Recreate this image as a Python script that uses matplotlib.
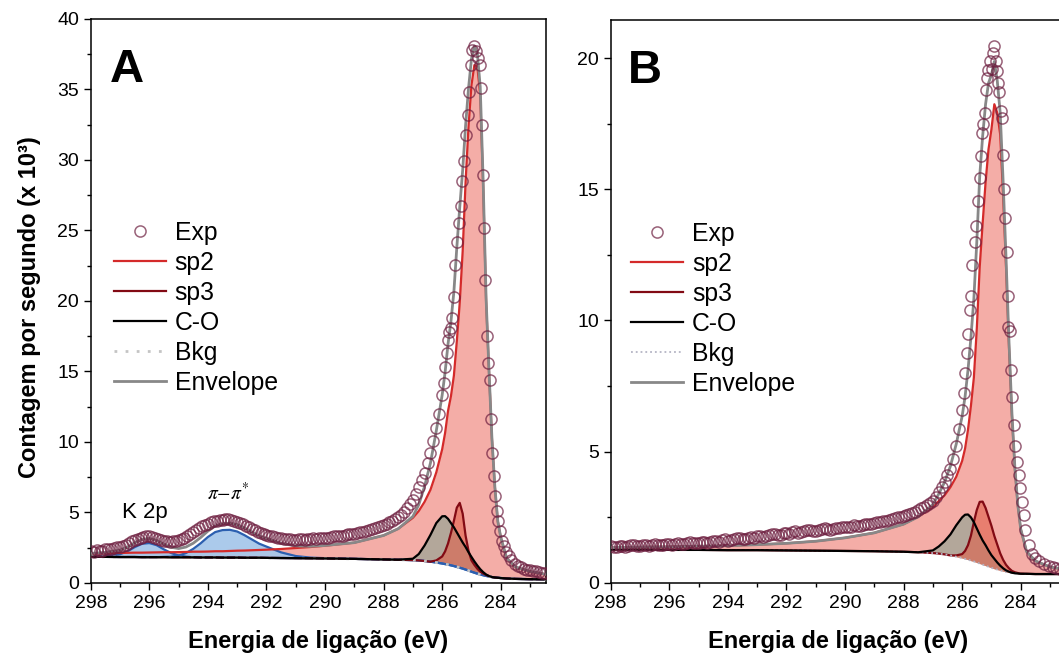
import numpy as np
import matplotlib.pyplot as plt
from matplotlib.ticker import MultipleLocator

plt.rcParams['font.family'] = ['Liberation Sans', 'DejaVu Sans']

# ---------------- panel A ----------------
energy_a = [298.0, 297.5, 297.0, 296.75, 296.5, 296.25, 296.0, 295.75, 295.5, 295.25,
            295.0, 294.75, 294.5, 294.25, 294.0, 293.75, 293.5, 293.25, 293.0, 292.75,
            292.5, 292.25, 292.0, 291.5, 291.0, 290.5, 290.0, 289.0, 288.0, 287.5,
            287.0, 286.8, 286.6, 286.4, 286.2, 286.0, 285.9, 285.8, 285.7, 285.6,
            285.5, 285.4, 285.3, 285.2, 285.1, 285.0, 284.9, 284.8, 284.7, 284.6,
            284.5, 284.4, 284.3, 284.2, 284.1, 284.0, 283.8, 283.5, 283.0, 282.45]
bkg_a = [1.85, 1.85, 1.84, 1.84, 1.84, 1.83, 1.83, 1.83, 1.83, 1.82,
         1.82, 1.82, 1.82, 1.81, 1.81, 1.81, 1.80, 1.80, 1.80, 1.79,
         1.79, 1.79, 1.78, 1.77, 1.76, 1.75, 1.74, 1.71, 1.67, 1.65,
         1.62, 1.60, 1.56, 1.51, 1.45, 1.38, 1.34, 1.30, 1.25, 1.20,
         1.14, 1.08, 1.02, 0.95, 0.88, 0.80, 0.73, 0.66, 0.60, 0.55,
         0.50, 0.46, 0.42, 0.39, 0.37, 0.35, 0.32, 0.29, 0.27, 0.26]
# component heights above the background
sp2_a = [0.25, 0.27, 0.29, 0.30, 0.31, 0.32, 0.33, 0.34, 0.35, 0.36,
         0.37, 0.38, 0.40, 0.41, 0.42, 0.44, 0.45, 0.47, 0.49, 0.51,
         0.53, 0.55, 0.58, 0.64, 0.72, 0.80, 0.90, 1.15, 1.70, 2.20,
         3.00, 3.50, 4.20, 5.10, 6.40, 8.10, 9.30, 10.9, 12.0, 13.5,
         16.0, 18.8, 22.5, 27.5, 31.5, 34.5, 36.0, 36.0, 34.0, 27.6,
         19.5, 14.5, 9.8, 6.4, 4.0, 2.9, 1.45, 0.85, 0.55, 0.35]
sp3_a = [0.0] * 34 + [0.15, 0.5, 0.9, 1.5, 2.3, 3.2, 4.2, 4.6, 3.9, 2.4,
                      1.4, 0.8, 0.55, 0.35, 0.2, 0.12, 0.07, 0.03] + [0.0] * 8
co_a = [0.0] * 30 + [0.1, 0.45, 1.1, 1.9, 2.8, 3.35, 3.4, 3.25, 3.0, 2.75,
                     2.45, 2.15, 1.85, 1.6, 1.3, 1.05, 0.8, 0.58, 0.38, 0.22,
                     0.1, 0.03] + [0.0] * 8
k2p_a = [0.0, 0.05, 0.2, 0.4, 0.7, 0.95, 1.0, 0.85, 0.55, 0.3, 0.13, 0.05] + [0.0] * 48
pipi_a = [0.0] * 8 + [0.02, 0.05, 0.12, 0.3, 0.6, 1.0, 1.45, 1.8, 1.95, 1.97,
                      1.85, 1.6, 1.3, 1.0, 0.8, 0.4, 0.15, 0.05, 0.02] + [0.0] * 33

exp_e_a = [298.0, 297.9, 297.8, 297.7, 297.6, 297.5, 297.4, 297.3, 297.2, 297.1,
           297.0, 296.9, 296.8, 296.7, 296.6, 296.5, 296.4, 296.3, 296.2, 296.1,
           296.0, 295.9, 295.8, 295.7, 295.6, 295.5, 295.4, 295.3, 295.2, 295.1,
           295.0, 294.9, 294.8, 294.7, 294.6, 294.5, 294.4, 294.3, 294.2, 294.1,
           294.0, 293.9, 293.8, 293.7, 293.6, 293.5, 293.4, 293.3, 293.2, 293.1,
           293.0, 292.9, 292.8, 292.7, 292.6, 292.5, 292.4, 292.3, 292.2, 292.1,
           292.0, 291.9, 291.8, 291.7, 291.6, 291.5, 291.4, 291.3, 291.2, 291.1,
           291.0, 290.9, 290.8, 290.7, 290.6, 290.5, 290.4, 290.3, 290.2, 290.1,
           290.0, 289.9, 289.8, 289.7, 289.6, 289.5, 289.4, 289.3, 289.2, 289.1,
           289.0, 288.9, 288.8, 288.7, 288.6, 288.5, 288.4, 288.3, 288.2, 288.1,
           288.0, 287.9, 287.8, 287.7, 287.6, 287.5, 287.4, 287.3, 287.2, 287.1,
           287.0, 286.9, 286.8, 286.7, 286.6, 286.5, 286.4, 286.3, 286.2, 286.1,
           286.0, 285.95, 285.9, 285.85, 285.8, 285.75, 285.7, 285.65, 285.6, 285.55,
           285.5, 285.43, 285.37, 285.31, 285.25, 285.19, 285.13, 285.07, 285.03, 284.97,
           284.9, 284.84, 284.77, 284.71, 284.67, 284.63, 284.6, 284.57, 284.54, 284.48,
           284.42, 284.36, 284.32, 284.29, 284.24, 284.18, 284.14, 284.1, 284.04, 283.97,
           283.9, 283.82, 283.73, 283.64, 283.5, 283.4, 283.3, 283.2, 283.1, 283.0,
           282.9, 282.8, 282.7, 282.6, 282.5]
exp_a = [2.25, 2.20, 2.32, 2.28, 2.30, 2.38, 2.42, 2.40, 2.45, 2.52,
         2.58, 2.62, 2.72, 2.85, 2.95, 3.02, 3.15, 3.20, 3.28, 3.35,
         3.32, 3.28, 3.22, 3.12, 3.05, 3.00, 2.98, 2.92, 2.95, 3.00,
         3.05, 3.10, 3.22, 3.30, 3.45, 3.62, 3.75, 3.90, 4.02, 4.10,
         4.20, 4.30, 4.36, 4.40, 4.45, 4.50, 4.52, 4.55, 4.46, 4.42,
         4.35, 4.25, 4.16, 4.05, 3.95, 3.85, 3.76, 3.62, 3.55, 3.48,
         3.42, 3.36, 3.30, 3.28, 3.22, 3.18, 3.15, 3.10, 3.12, 3.06,
         3.08, 3.10, 3.12, 3.06, 3.10, 3.14, 3.16, 3.12, 3.18, 3.20,
         3.22, 3.20, 3.25, 3.30, 3.32, 3.30, 3.36, 3.42, 3.45, 3.46,
         3.50, 3.56, 3.60, 3.64, 3.70, 3.76, 3.82, 3.90, 3.95, 4.02,
         4.10, 4.20, 4.30, 4.40, 4.52, 4.65, 4.80, 5.02, 5.30, 5.60,
         5.90, 6.30, 6.80, 7.30, 7.80, 8.50, 9.20, 10.1, 11.0, 12.0,
         13.3, 14.2, 15.3, 16.3, 17.2, 17.8, 18.1, 18.8, 20.3, 22.55,
         24.2, 25.5, 26.7, 28.5, 29.9, 31.8, 33.2, 34.8, 36.7, 37.8,
         38.1, 37.7, 37.2, 36.7, 35.1, 32.5, 28.9, 25.2, 21.5, 17.5,
         15.6, 14.4, 11.6, 9.2, 7.6, 6.2, 5.1, 4.4, 3.7, 3.0,
         2.6, 2.2, 1.9, 1.6, 1.35, 1.2, 1.1, 1.0, 0.95, 0.9,
         0.88, 0.82, 0.78, 0.72, 0.68]

# ---------------- panel B ----------------
energy_b = [298.0, 297.0, 296.0, 295.0, 294.0, 293.0, 292.0, 291.0, 290.0, 289.0,
            288.0, 287.5, 287.0, 286.8, 286.6, 286.4, 286.2, 286.0, 285.9, 285.8,
            285.7, 285.6, 285.5, 285.4, 285.3, 285.2, 285.1, 285.0, 284.9, 284.8,
            284.7, 284.6, 284.5, 284.4, 284.3, 284.2, 284.1, 284.0, 283.8, 283.5,
            283.0, 282.45]
bkg_b = [1.27, 1.27, 1.26, 1.26, 1.25, 1.25, 1.24, 1.23, 1.22, 1.21,
         1.19, 1.17, 1.14, 1.12, 1.09, 1.05, 1.00, 0.95, 0.92, 0.89,
         0.85, 0.82, 0.78, 0.74, 0.70, 0.66, 0.62, 0.58, 0.54, 0.51,
         0.48, 0.45, 0.42, 0.40, 0.38, 0.37, 0.36, 0.35, 0.35, 0.34,
         0.34, 0.34]
sp2_b = [0.08, 0.10, 0.12, 0.14, 0.17, 0.21, 0.27, 0.36, 0.50, 0.70,
         1.05, 1.35, 1.75, 2.00, 2.25, 2.60, 3.05, 3.70, 4.20, 4.95,
         5.90, 7.00, 8.90, 11.3, 13.0, 14.6, 15.9, 16.7, 17.7, 17.4,
         16.6, 14.3, 11.6, 8.6, 6.0, 4.0, 2.6, 1.7, 0.85, 0.5,
         0.27, 0.17]
sp3_b = [0.0] * 16 + [0.05, 0.15, 0.3, 0.55, 0.95, 1.5, 2.0, 2.35, 2.4, 2.2,
                      1.9, 1.6, 1.25, 0.95, 0.65, 0.43, 0.27, 0.16, 0.08, 0.04,
                      0.02, 0.01] + [0.0] * 4
co_b = [0.0] * 12 + [0.1, 0.27, 0.5, 0.8, 1.2, 1.55, 1.68, 1.72, 1.65, 1.5,
                     1.3, 1.1, 0.92, 0.78, 0.62, 0.48, 0.38, 0.27, 0.18, 0.11,
                     0.06, 0.03, 0.01] + [0.0] * 7

exp_e_b = [298.0, 297.9, 297.8, 297.7, 297.6, 297.5, 297.4, 297.3, 297.2, 297.1,
           297.0, 296.9, 296.8, 296.7, 296.6, 296.5, 296.4, 296.3, 296.2, 296.1,
           296.0, 295.9, 295.8, 295.7, 295.6, 295.5, 295.4, 295.3, 295.2, 295.1,
           295.0, 294.9, 294.8, 294.7, 294.6, 294.5, 294.4, 294.3, 294.2, 294.1,
           294.0, 293.9, 293.8, 293.7, 293.6, 293.5, 293.4, 293.3, 293.2, 293.1,
           293.0, 292.9, 292.8, 292.7, 292.6, 292.5, 292.4, 292.3, 292.2, 292.1,
           292.0, 291.9, 291.8, 291.7, 291.6, 291.5, 291.4, 291.3, 291.2, 291.1,
           291.0, 290.9, 290.8, 290.7, 290.6, 290.5, 290.4, 290.3, 290.2, 290.1,
           290.0, 289.9, 289.8, 289.7, 289.6, 289.5, 289.4, 289.3, 289.2, 289.1,
           289.0, 288.9, 288.8, 288.7, 288.6, 288.5, 288.4, 288.3, 288.2, 288.1,
           288.0, 287.9, 287.8, 287.7, 287.6, 287.5, 287.4, 287.3, 287.2, 287.1,
           287.0, 286.9, 286.8, 286.7, 286.6, 286.5, 286.4, 286.3, 286.2, 286.1,
           286.0, 285.95, 285.9, 285.85, 285.8, 285.74, 285.69, 285.66, 285.57, 285.51,
           285.46, 285.4, 285.36, 285.32, 285.28, 285.22, 285.18, 285.15, 285.1, 285.05,
           284.98, 284.94, 284.9, 284.86, 284.82, 284.79, 284.75, 284.68, 284.65, 284.59,
           284.56, 284.54, 284.48, 284.44, 284.42, 284.38, 284.33, 284.3, 284.24, 284.18,
           284.13, 284.07, 284.02, 283.96, 283.9, 283.85, 283.73, 283.62, 283.5, 283.39,
           283.2, 283.04, 282.9, 282.8, 282.65, 282.5]
exp_b = [1.39, 1.36, 1.38, 1.42, 1.41, 1.37, 1.40, 1.44, 1.43, 1.40,
         1.42, 1.46, 1.44, 1.41, 1.43, 1.47, 1.46, 1.44, 1.45, 1.49,
         1.47, 1.46, 1.49, 1.52, 1.48, 1.50, 1.52, 1.55, 1.51, 1.53,
         1.54, 1.58, 1.56, 1.54, 1.55, 1.60, 1.60, 1.58, 1.62, 1.66,
         1.61, 1.64, 1.66, 1.71, 1.70, 1.66, 1.68, 1.73, 1.74, 1.71,
         1.78, 1.80, 1.76, 1.79, 1.82, 1.86, 1.86, 1.82, 1.84, 1.90,
         1.90, 1.88, 1.93, 1.97, 1.92, 1.95, 1.97, 2.02, 2.00, 1.98,
         1.99, 2.03, 2.04, 2.08, 2.06, 2.03, 2.05, 2.09, 2.10, 2.14,
         2.12, 2.13, 2.15, 2.19, 2.18, 2.18, 2.20, 2.25, 2.24, 2.26,
         2.28, 2.31, 2.32, 2.36, 2.38, 2.40, 2.44, 2.48, 2.50, 2.53,
         2.57, 2.60, 2.64, 2.68, 2.72, 2.78, 2.84, 2.90, 2.97, 3.04,
         3.12, 3.28, 3.46, 3.65, 3.84, 4.10, 4.35, 4.72, 5.23, 5.86,
         6.60, 7.24, 8.00, 8.75, 9.50, 10.4, 10.95, 12.1, 13.0, 13.6,
         14.55, 15.44, 16.27, 17.15, 17.5, 17.9, 18.8, 19.24, 19.55, 19.87,
         19.6, 20.2, 20.44, 19.9, 19.5, 19.05, 18.7, 18.0, 17.7, 16.3,
         15.0, 13.9, 12.6, 10.95, 9.75, 9.6, 8.1, 7.1, 6.0, 5.2,
         4.6, 4.1, 3.6, 3.1, 2.6, 2.0, 1.45, 1.1, 0.95, 0.82,
         0.72, 0.63, 0.60, 0.57, 0.53, 0.50]


def draw_panel(ax, e, bkg, sp2, sp3, co, exp_e, exp_y, blue=(), bkg_style=None):
    e = np.array(e)
    bkg = np.array(bkg)
    sp2 = np.array(sp2)
    sp3 = np.array(sp3)
    co = np.array(co)
    env = bkg + sp2 + sp3 + co
    for b in blue:
        env = env + np.array(b)

    ax.fill_between(e, bkg, bkg + sp2, color='#f3a29b', alpha=0.88, lw=0, zorder=1)
    for b in blue:
        b = np.array(b)
        ax.fill_between(e, bkg, bkg + b, where=b > 0, interpolate=True,
                        color='#a7c7ea', alpha=0.95, lw=0, zorder=1.5)
        ax.plot(e, bkg + b, color='#2b5fb0', lw=1.6, zorder=2.5)
    ax.fill_between(e, bkg, bkg + co, where=co > 0, color='#9ea596', alpha=0.75,
                    lw=0, zorder=1.6)
    ax.fill_between(e, bkg, bkg + sp3, where=sp3 > 0, color='#e0604a', alpha=0.6,
                    lw=0, zorder=1.7)

    l_sp2, = ax.plot(e, bkg + sp2, color='#d42a2a', lw=1.6, zorder=3, label='sp2')
    l_sp3, = ax.plot(e, bkg + sp3, color='#820a14', lw=1.6, zorder=3.1, label='sp3')
    l_bkg, = ax.plot(e, bkg, zorder=3.2, label='Bkg', **bkg_style)
    l_co, = ax.plot(e, bkg + co, color='black', lw=1.6, zorder=3.3, label='C-O')
    l_env, = ax.plot(e, env, color='#888888', lw=2.0, zorder=3.5, label='Envelope')
    l_exp, = ax.plot(exp_e, exp_y, 'o', ms=8, mfc='none', mec='#6e1f40', mew=1.1,
                     alpha=0.7, zorder=4, label='Exp')

    ax.set_xlim(298, 282.45)
    ax.xaxis.set_major_locator(MultipleLocator(2))
    ax.xaxis.set_minor_locator(MultipleLocator(1))
    ax.yaxis.set_major_locator(MultipleLocator(5))
    ax.yaxis.set_minor_locator(MultipleLocator(2.5))
    ax.tick_params(which='both', direction='out', top=False, right=False,
                   width=1.0, labelsize=14)
    ax.tick_params(which='major', length=5)
    ax.tick_params(which='minor', length=3)
    for s in ax.spines.values():
        s.set_linewidth(1.1)
    ax.set_xlabel('Energia de ligação (eV)', fontsize=17, fontweight='bold', labelpad=13)
    return [l_exp, l_sp2, l_sp3, l_co, l_bkg, l_env]


fig = plt.figure(figsize=(10.59, 6.63), dpi=100)
ax1 = fig.add_axes([0.0857, 0.1207, 0.4300, 0.8507])
ax2 = fig.add_axes([0.5767, 0.1207, 0.4300, 0.8492])

h1 = draw_panel(ax1, energy_a, bkg_a, sp2_a, sp3_a, co_a, exp_e_a, exp_a,
                blue=(k2p_a, pipi_a),
                bkg_style=dict(color='#c4c4c4', lw=2.0, ls=(0, (1, 3))))
ax1.set_ylim(0, 40)
ax1.text(296.15, 4.6, 'K 2p', fontsize=16, ha='center', va='baseline')
ax1.text(293.3, 5.85, r'$\pi\mathrm{-}\pi^{*}$', fontsize=14, ha='center',
         va='baseline', math_fontfamily='stix')
ax1.text(0.042, 0.888, 'A', transform=ax1.transAxes, fontsize=34,
         fontweight='bold', ha='left', va='baseline')

h2 = draw_panel(ax2, energy_b, bkg_b, sp2_b, sp3_b, co_b, exp_e_b, exp_b,
                bkg_style=dict(color='#b4b4c4', lw=1.3, ls=':'))
ax2.set_ylim(0, 21.45)
ax2.text(0.038, 0.888, 'B', transform=ax2.transAxes, fontsize=34,
         fontweight='bold', ha='left', va='baseline')

for ax, h, anchor in ((ax1, h1, (0.051, 0.642)), (ax2, h2, (0.045, 0.641))):
    ax.legend(h, [l.get_label() for l in h], loc='upper left', bbox_to_anchor=anchor,
              frameon=False, fontsize=17.8, handlelength=2.1, handletextpad=0.35,
              labelspacing=0.24, borderpad=0, borderaxespad=0)

fig.text(0.028, 0.537, 'Contagem por segundo (x 10³)', rotation=90, ha='center',
         va='center', fontsize=17, fontweight='bold')

fig.savefig('out.png', dpi=100)
